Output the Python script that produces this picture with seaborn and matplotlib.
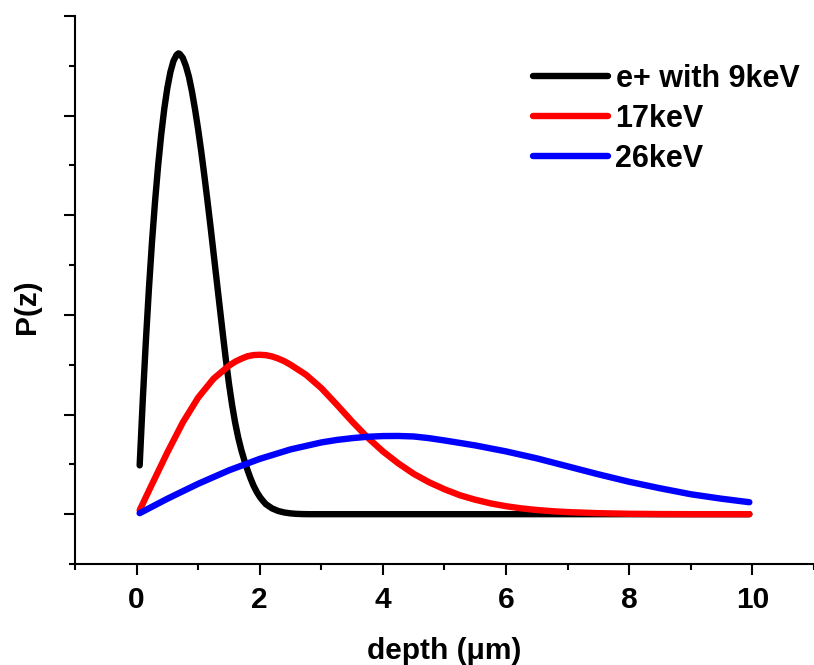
import matplotlib
matplotlib.use("Agg")
import matplotlib.pyplot as plt
from matplotlib.ticker import MultipleLocator, NullFormatter
import numpy as np
import pandas as pd
import seaborn as sns

# Positron implantation profiles P(z) versus depth for three beam energies
labels = ["e+ with 9keV", "17keV", "26keV"]
colors = ["#000000", "#ff0000", "#0000ff"]

depth_9 = [0.05, 0.10, 0.15, 0.20, 0.25, 0.30, 0.35, 0.40, 0.45, 0.50,
           0.55, 0.60, 0.65, 0.68, 0.70, 0.75, 0.80, 0.85, 0.90, 0.95,
           1.00, 1.05, 1.10, 1.15, 1.20, 1.25, 1.30, 1.35, 1.40, 1.45,
           1.50, 1.55, 1.60, 1.65, 1.70, 1.75, 1.80, 1.85, 1.90, 1.95,
           2.00, 2.05, 2.10, 2.20, 2.30, 2.40, 2.50, 2.60, 2.70, 2.80,
           3.0, 4.0, 5.0, 6.0, 7.0, 8.0, 9.0, 9.95]
p_9 = [0.49, 1.14, 1.73, 2.26, 2.73, 3.14, 3.50, 3.81, 4.07, 4.28,
       4.44, 4.55, 4.61, 4.625, 4.62, 4.58, 4.50, 4.39, 4.24, 4.06,
       3.86, 3.64, 3.40, 3.15, 2.89, 2.62, 2.35, 2.08, 1.81, 1.55,
       1.31, 1.10, 0.92, 0.77, 0.645, 0.54, 0.445, 0.36, 0.285, 0.225,
       0.175, 0.135, 0.10, 0.058, 0.032, 0.017, 0.008, 0.003, 0.001, 0.0,
       0.0, 0.0, 0.0, 0.0, 0.0, 0.0, 0.0, 0.0]

depth_17 = [0.05, 0.25, 0.50, 0.75, 1.00, 1.25, 1.50, 1.60, 1.70, 1.80,
            1.90, 2.00, 2.10, 2.20, 2.30, 2.40, 2.50, 2.60, 2.75, 3.00,
            3.25, 3.50, 3.75, 4.00, 4.25, 4.50, 4.75, 5.00, 5.25, 5.50,
            5.75, 6.00, 6.25, 6.50, 6.75, 7.00, 7.50, 8.00, 8.50, 9.00,
            9.95]
p_17 = [0.04, 0.30, 0.62, 0.92, 1.17, 1.36, 1.49, 1.53, 1.56, 1.585,
        1.597, 1.60, 1.596, 1.583, 1.562, 1.535, 1.50, 1.46, 1.40, 1.265,
        1.10, 0.93, 0.77, 0.63, 0.51, 0.405, 0.32, 0.25, 0.19, 0.145,
        0.108, 0.08, 0.058, 0.042, 0.03, 0.021, 0.01, 0.004, 0.001, 0.0,
        0.0]

depth_26 = [0.05, 0.5, 1.0, 1.5, 2.0, 2.5, 3.0, 3.25, 3.5, 3.75,
            4.0, 4.25, 4.5, 4.75, 5.0, 5.5, 6.0, 6.5, 7.0, 7.5,
            8.0, 8.5, 9.0, 9.5, 9.95]
p_26 = [0.01, 0.155, 0.305, 0.44, 0.555, 0.65, 0.72, 0.745, 0.763, 0.777,
        0.784, 0.785, 0.78, 0.763, 0.74, 0.69, 0.63, 0.56, 0.48, 0.40,
        0.325, 0.26, 0.20, 0.155, 0.12]

x_major = [0, 2, 4, 6, 8, 10]

frames = []
for lab, zs, ps in zip(labels, [depth_9, depth_17, depth_26], [p_9, p_17, p_26]):
    frames.append(pd.DataFrame({"depth": zs, "P": ps, "series": lab}))
df = pd.concat(frames, ignore_index=True)

sns.set_theme(style="ticks")
plt.rcParams["font.family"] = ["Liberation Sans", "DejaVu Sans"]
plt.rcParams["font.weight"] = "bold"
plt.rcParams["text.color"] = "black"
plt.rcParams["axes.labelcolor"] = "black"
plt.rcParams["xtick.color"] = "black"
plt.rcParams["ytick.color"] = "black"

fig = plt.figure(figsize=(8.14, 6.65), dpi=100)
ax = fig.add_axes([75 / 814, 101 / 665, 739 / 814, 548 / 665])

sns.lineplot(data=df, x="depth", y="P", hue="series", hue_order=labels,
             palette=dict(zip(labels, colors)), sort=False, estimator=None,
             linewidth=4.6, solid_capstyle="round", solid_joinstyle="round",
             ax=ax, legend=True)

ax.set_xlim(-1, 11)
ax.set_ylim(-0.5, 5.0)

ax.xaxis.set_major_locator(plt.FixedLocator(x_major))
ax.xaxis.set_minor_locator(MultipleLocator(1))
ax.yaxis.set_major_locator(MultipleLocator(1))
ax.yaxis.set_minor_locator(MultipleLocator(0.5))
ax.yaxis.set_major_formatter(NullFormatter())

for side in ["top", "right"]:
    ax.spines[side].set_visible(False)
for side in ["left", "bottom"]:
    ax.spines[side].set_linewidth(1.5)
    ax.spines[side].set_color("black")

ax.tick_params(which="major", direction="out", length=8, width=1.5,
               colors="black", labelsize=21.5, pad=8)
ax.tick_params(which="minor", direction="out", length=4.3, width=1.5,
               colors="black")
for t in ax.get_xticklabels():
    t.set_fontweight("bold")
    t.set_color("black")

ax.set_xlabel("depth (μm)", fontsize=21.5, fontweight="bold", color="black")
ax.set_ylabel("P(z)", fontsize=21.5, fontweight="bold", color="black")
ax.xaxis.set_label_coords(0.5, -0.133)
ax.yaxis.set_label_coords(-0.046, 0.469)

leg = ax.legend(loc="upper left", bbox_to_anchor=(533 / 814, 1 - 64 / 665),
                bbox_transform=fig.transFigure, frameon=False,
                borderpad=0, borderaxespad=0, handlelength=2.45,
                handletextpad=0.25, labelspacing=0.33,
                prop={"size": 22, "weight": "bold"})
for line in leg.get_lines():
    line.set_linewidth(4.6)
    line.set_solid_capstyle("round")
for t in leg.get_texts():
    t.set_color("black")

ax.set_facecolor("white")
fig.patch.set_facecolor("white")
fig.savefig("out.png", dpi=100)
